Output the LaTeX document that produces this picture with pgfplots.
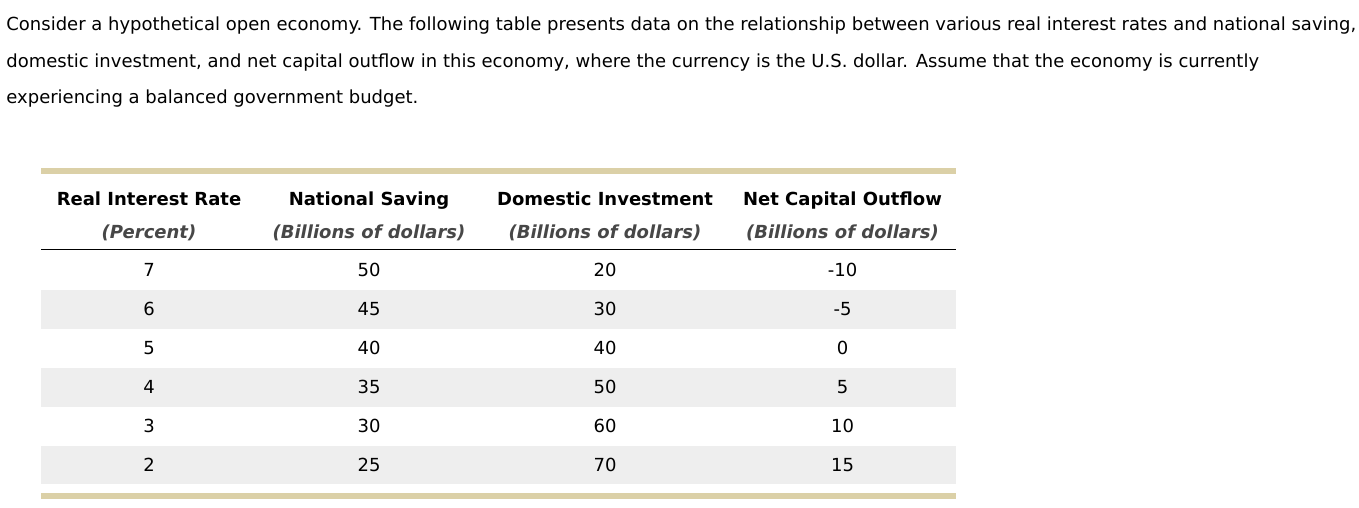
\documentclass[border=0pt]{standalone}
\usepackage{pgfplots}
\pgfplotsset{compat=1.18}
\usepackage{fontspec}
\setmainfont{DejaVu Sans}
\definecolor{tanbar}{HTML}{DBD0A7}
\definecolor{stripe}{HTML}{EEEEEE}
\definecolor{subgray}{HTML}{474747}
\newcommand{\bodyfont}{\fontsize{9pt}{10.5pt}\selectfont}
\begin{document}
\begin{tikzpicture}
\begin{axis}[hide axis, scale only axis, width=679.5pt, height=254pt,
  xmin=0, xmax=1359, ymin=0, ymax=508, y dir=reverse, clip=false]
% page background
\addplot[fill=white, draw=none] coordinates {(0,0) (1359,0) (1359,508) (0,508)} -- cycle;
% tan bars
\addplot[fill=tanbar, draw=none] coordinates {(41,168) (956,168) (956,174) (41,174)} -- cycle;
\addplot[fill=tanbar, draw=none] coordinates {(41,493) (956,493) (956,499) (41,499)} -- cycle;
% stripes
\addplot[fill=stripe, draw=none] coordinates {(41,289.5) (956,289.5) (956,328.5) (41,328.5)} -- cycle;
\addplot[fill=stripe, draw=none] coordinates {(41,367.5) (956,367.5) (956,406.5) (41,406.5)} -- cycle;
\addplot[fill=stripe, draw=none] coordinates {(41,445.5) (956,445.5) (956,484) (41,484)} -- cycle;
% header rule
\addplot[black, line width=0.5pt] coordinates {(41,249.5) (956,249.5)};
% paragraph
\node[anchor=base west, inner sep=0pt, font=\bodyfont] at (axis cs:6,31) {Consider a hypothetical open economy. The following table presents data on the relationship between various real interest rates and national saving,};
\node[anchor=base west, inner sep=0pt, font=\bodyfont] at (axis cs:6,67.5) {domestic investment, and net capital outflow in this economy, where the currency is the U.S. dollar. Assume that the economy is currently};
\node[anchor=base west, inner sep=0pt, font=\bodyfont] at (axis cs:6,104) {experiencing a balanced government budget.};
% headers
\foreach \cx/\ta/\tb in {149/Real Interest Rate/Percent, 369/National Saving/Billions of dollars, 605/Domestic Investment/Billions of dollars, 842.5/Net Capital Outflow/Billions of dollars}{
  \edef\tmp{\noexpand\node[anchor=base, inner sep=0pt, font=\noexpand\bodyfont\noexpand\bfseries] at (axis cs:\cx,205.5) {\ta};
  \noexpand\node[anchor=base, inner sep=0pt, text=subgray, font=\noexpand\bodyfont\noexpand\bfseries\noexpand\itshape] at (axis cs:\cx,238.5) {(\tb)};}
  \tmp
}
% cells
\addplot[only marks, mark=none, draw=none, nodes near coords, point meta=explicit symbolic,
  nodes near coords align={center},
  every node near coord/.append style={font=\bodyfont, text=black, inner sep=0pt, anchor=center}]
  table[meta=label] {
x y label
149 270 7
369 270 50
605 270 20
842.5 270 -10
149 309 6
369 309 45
605 309 30
842.5 309 -5
149 348 5
369 348 40
605 348 40
842.5 348 0
149 387 4
369 387 35
605 387 50
842.5 387 5
149 426 3
369 426 30
605 426 60
842.5 426 10
149 465 2
369 465 25
605 465 70
842.5 465 15
};
\end{axis}
\end{tikzpicture}
\end{document}
